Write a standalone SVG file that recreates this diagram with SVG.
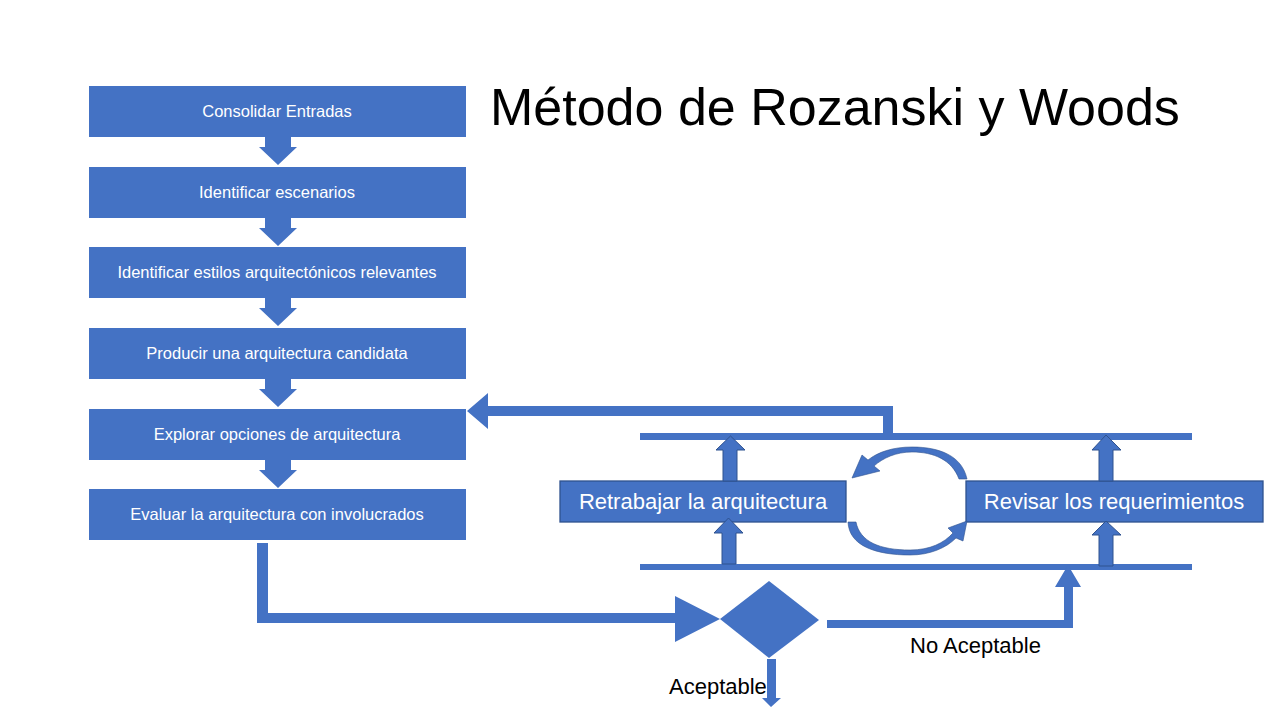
<svg xmlns="http://www.w3.org/2000/svg" width="1280" height="720" viewBox="0 0 1280 720">
<style>
.box{fill:#4472C4}
.box2{fill:#4472C4;stroke:#2F528F;stroke-width:1.3}
.lbl{font-family:"Liberation Sans",Arial,sans-serif;font-size:16.5px;fill:#fff;text-anchor:middle}
.lbl2{font-family:"Liberation Sans",Arial,sans-serif;font-size:22px;fill:#fff;text-anchor:middle}
.txt{font-family:"Liberation Sans",Arial,sans-serif;font-size:22px;fill:#000}
.con{fill:#4472C4}
.upa{fill:#4472C4;stroke:#2F528F;stroke-width:1}
.arc{fill:#4472C4;stroke:#2F528F;stroke-width:0.6}
</style>
<rect width="1280" height="720" fill="#fff"/>
<text x="490" y="125" font-family="Liberation Sans,Arial,sans-serif" font-size="52" fill="#000">Método de Rozanski y Woods</text>

<g id="n1"><rect class="box" x="89" y="86" width="377" height="51"/><text class="lbl" x="277" y="117">Consolidar Entradas</text></g>
<g id="n2"><rect class="box" x="89" y="167" width="377" height="51"/><text class="lbl" x="277" y="198">Identificar escenarios</text></g>
<g id="n3"><rect class="box" x="89" y="247" width="377" height="51"/><text class="lbl" x="277" y="278">Identificar estilos arquitectónicos relevantes</text></g>
<g id="n4"><rect class="box" x="89" y="328" width="377" height="51"/><text class="lbl" x="277" y="359">Producir una arquitectura candidata</text></g>
<g id="n5"><rect class="box" x="89" y="409" width="377" height="51"/><text class="lbl" x="277" y="440">Explorar opciones de arquitectura</text></g>
<g id="n6"><rect class="box" x="89" y="489" width="377" height="51"/><text class="lbl" x="277" y="520">Evaluar la arquitectura con involucrados</text></g>

<g id="bars">
<rect class="box" x="640" y="433" width="552" height="7"/>
<rect class="box" x="640" y="564" width="552" height="6"/>
</g>

<g id="n7"><rect class="box2" x="560" y="481" width="286" height="41"/><text class="lbl2" x="703" y="509">Retrabajar la arquitectura</text></g>
<g id="n8"><rect class="box2" x="966" y="481" width="297" height="41"/><text class="lbl2" x="1114" y="509">Revisar los requerimientos</text></g>
<g id="n9"><polygon class="box" points="720,619 769,581 819,620 769,658"/></g>

<g id="connectors">
<polygon class="con" points="265,137 291,137 291,147 297,147 278,165 259,147 265,147"/>
<polygon class="con" points="265,218 291,218 291,228 297,228 278,246 259,228 265,228"/>
<polygon class="con" points="265,298 291,298 291,308 297,308 278,326 259,308 265,308"/>
<polygon class="con" points="265,379 291,379 291,389 297,389 278,407 259,389 265,389"/>
<polygon class="con" points="265,460 291,460 291,470 297,470 278,488 259,470 265,470"/>

<polygon class="con" points="893,435 893,406 488,406 488,393 467,411 488,429 488,416 883,416 883,435"/>

<polygon class="con" points="257,543 268,543 268,613 675,613 675,596 720,619 675,642 675,623 257,623"/>
<polygon class="con" points="767,659 776,659 776,698 781,698 771,707 762,698 767,698"/>
<polygon class="con" points="827,620 1064,620 1064,587 1055,587 1068,565 1081,587 1073,587 1073,628 827,628"/>

<polygon class="upa" points="723,481 723,450 716,450 730.5,436 745,450 737,450 737,481"/>
<polygon class="upa" points="722,564 722,533 714,533 728.5,518 743,533 736,533 736,564"/>
<polygon class="upa" points="1099,481 1099,450 1092,450 1106,435 1121,450 1113,450 1113,481"/>
<polygon class="upa" points="1099,566 1099,535 1092,535 1106,521 1121,535 1113,535 1113,566"/>

<path class="arc" d="M967,479 C962,456 940,447 912,447 C893,447 878,452 868,460 L862,455 L852,478 L880,471 L874,466 C883,458 896,452 912,452 C934,452 952,460 959,479 Z"/>
<path class="arc" d="M848,522 C849,546 876,555 910,555 C930,555 946,548 956,538 L963,541 L967,521 L948,528 L953,533 C944,543 930,550 910,550 C880,550 860,542 856,522 Z"/>
</g>

<text class="txt" x="669" y="694">Aceptable</text>
<text class="txt" x="910" y="653">No Aceptable</text>
</svg>
